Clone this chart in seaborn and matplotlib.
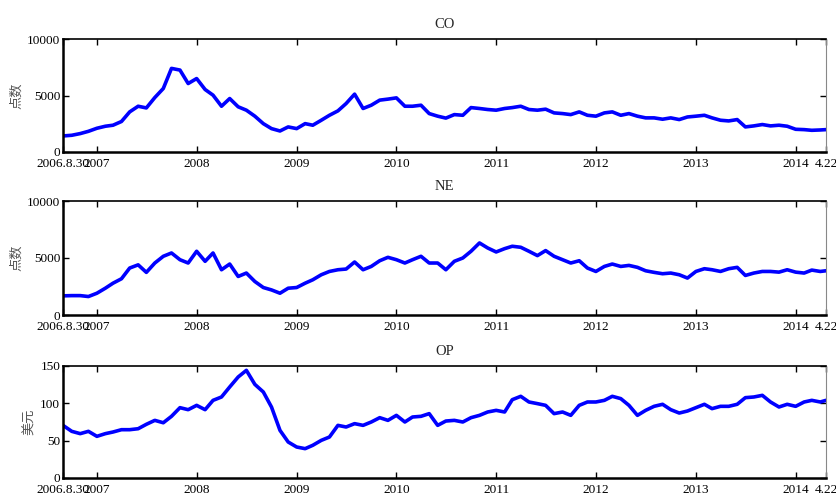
import matplotlib
matplotlib.use("Agg")
import matplotlib.pyplot as plt
import seaborn as sns
import pandas as pd

# ---------------- data (monthly) ----------------
start_date = "2006-08-30"
end_date = "2014-04-22"
month_dates = pd.date_range("2006-10-01", "2014-04-01", freq="MS")
dates = [pd.Timestamp(start_date)] + list(month_dates) + [pd.Timestamp(end_date)]

co_values = [1420, 1480, 1630, 1830,
             2100, 2280, 2370, 2700, 3550, 4050, 3900, 4820, 5620, 7400, 7250, 6060,
             6500, 5530, 5030, 4050, 4730, 4000, 3700, 3170, 2510, 2070, 1860, 2220,
             2070, 2510, 2370, 2810, 3250, 3640, 4290, 5120, 3850, 4140, 4590, 4680,
             4790, 4050, 4050, 4140, 3400, 3170, 3000, 3310, 3250, 3930, 3850, 3760,
             3700, 3850, 3930, 4050, 3760, 3700, 3790, 3460, 3400, 3310, 3550, 3250,
             3170, 3460, 3550, 3250, 3400, 3170, 3020, 3020, 2900, 3020, 2870, 3100,
             3170, 3250, 3020, 2810, 2750, 2870, 2220, 2310, 2430, 2310, 2370, 2280,
             2010, 1980, 1920, 1950, 1980]

ne_values = [1680, 1700, 1700, 1620,
             1910, 2350, 2790, 3180, 4120, 4400, 3740, 4560, 5150, 5440, 4850, 4560,
             5590, 4710, 5440, 3970, 4470, 3380, 3680, 2940, 2410, 2200, 1910, 2350,
             2410, 2790, 3090, 3530, 3820, 3970, 4030, 4650, 3970, 4260, 4760, 5060,
             4850, 4560, 4850, 5150, 4560, 4560, 3970, 4710, 5000, 5590, 6320, 5880,
             5530, 5820, 6030, 5940, 5590, 5210, 5650, 5150, 4850, 4560, 4760, 4120,
             3820, 4260, 4470, 4260, 4350, 4180, 3880, 3740, 3620, 3680, 3530, 3240,
             3820, 4060, 3970, 3820, 4060, 4180, 3470, 3680, 3820, 3820, 3760, 3970,
             3760, 3680, 3940, 3820, 3880]

op_values = [70.5, 62.5, 59.4, 62.5,
             55.8, 59.4, 61.6, 64.7, 64.7, 66.0, 71.9, 77.2, 74.0, 82.6, 94.2, 91.5,
             97.3, 91.5, 104.0, 108.5, 121.9, 135.3, 144.2, 125.4, 115.2, 95.0, 63.8, 48.2,
             41.5, 39.3, 43.8, 50.4, 54.9, 70.5, 68.3, 72.8, 70.5, 75.0, 80.8, 77.2,
             83.9, 75.0, 81.7, 82.6, 86.2, 70.5, 76.3, 77.2, 75.0, 80.8, 83.9, 88.4,
             90.6, 88.4, 104.9, 109.4, 101.8, 99.6, 97.3, 86.2, 88.4, 83.9, 97.3, 101.8,
             101.8, 104.0, 109.4, 106.3, 97.3, 83.9, 90.6, 96.0, 98.7, 91.5, 87.0, 89.7,
             94.2, 98.7, 92.9, 96.0, 96.0, 98.7, 107.6, 108.5, 110.7, 101.8, 95.1, 98.7,
             96.0, 101.8, 104.0, 101.8, 104.0]

titles = ["CO", "NE", "OP"]
ylabels = ["点数", "点数", "美元"]
ylims = [(0, 10000), (0, 10000), (0, 150)]
yticks_list = [[0, 5000, 10000], [0, 5000, 10000], [0, 50, 100, 150]]
xtick_dates = [start_date, "2007-01-01", "2008-01-01", "2009-01-01", "2010-01-01",
               "2011-01-01", "2012-01-01", "2013-01-01", "2014-01-01", end_date]
xtick_labels = ["2006.8.30", "2007", "2008", "2009", "2010",
                "2011", "2012", "2013", "2014", "4.22"]

# ---------------- plotting ----------------
sns.set_style("ticks")
plt.rcParams["font.family"] = ["Liberation Serif", "Noto Sans CJK SC", "DejaVu Sans"]

fig = plt.figure(figsize=(8.36, 4.95), dpi=100)
W, H = 836, 495
panels = [(39, 152), (201, 315), (366, 478)]
left_px, right_px = 63, 826

series = [co_values, ne_values, op_values]
for i, (top, bot) in enumerate(panels):
    ax = fig.add_axes([left_px / W, 1 - bot / H, (right_px - left_px) / W, (bot - top) / H])
    df = pd.DataFrame({"date": dates, "value": series[i]})
    sns.lineplot(data=df, x="date", y="value", ax=ax, color="#0000ff", linewidth=2.6)
    ax.set_xlim(pd.Timestamp(start_date), pd.Timestamp(end_date))
    ax.set_ylim(*ylims[i])
    ax.set_yticks(yticks_list[i])
    ax.set_yticklabels([str(v) for v in yticks_list[i]], fontsize=9.5)
    ax.set_xticks([pd.Timestamp(d) for d in xtick_dates])
    ax.set_xticklabels(xtick_labels, fontsize=9.5)
    ax.tick_params(axis="both", direction="in", length=4, width=1.0,
                   top=True, right=True, colors="black")
    ax.tick_params(axis="x", pad=4)
    ax.tick_params(axis="y", pad=2)
    ax.set_xlabel("")
    ax.set_ylabel(ylabels[i], fontsize=9.5, color="#555555",
                  family=["Noto Sans CJK SC", "DejaVu Sans"], labelpad=3)
    ax.set_title(titles[i], fontsize=10.5, pad=8)
    for s in ["left", "bottom"]:
        ax.spines[s].set_linewidth(1.8)
        ax.spines[s].set_color("black")
    ax.spines["top"].set_linewidth(1.2)
    ax.spines["top"].set_color("black")
    ax.spines["right"].set_linewidth(0.8)
    ax.spines["right"].set_color("#888888")

fig.savefig("out.png", dpi=100)
